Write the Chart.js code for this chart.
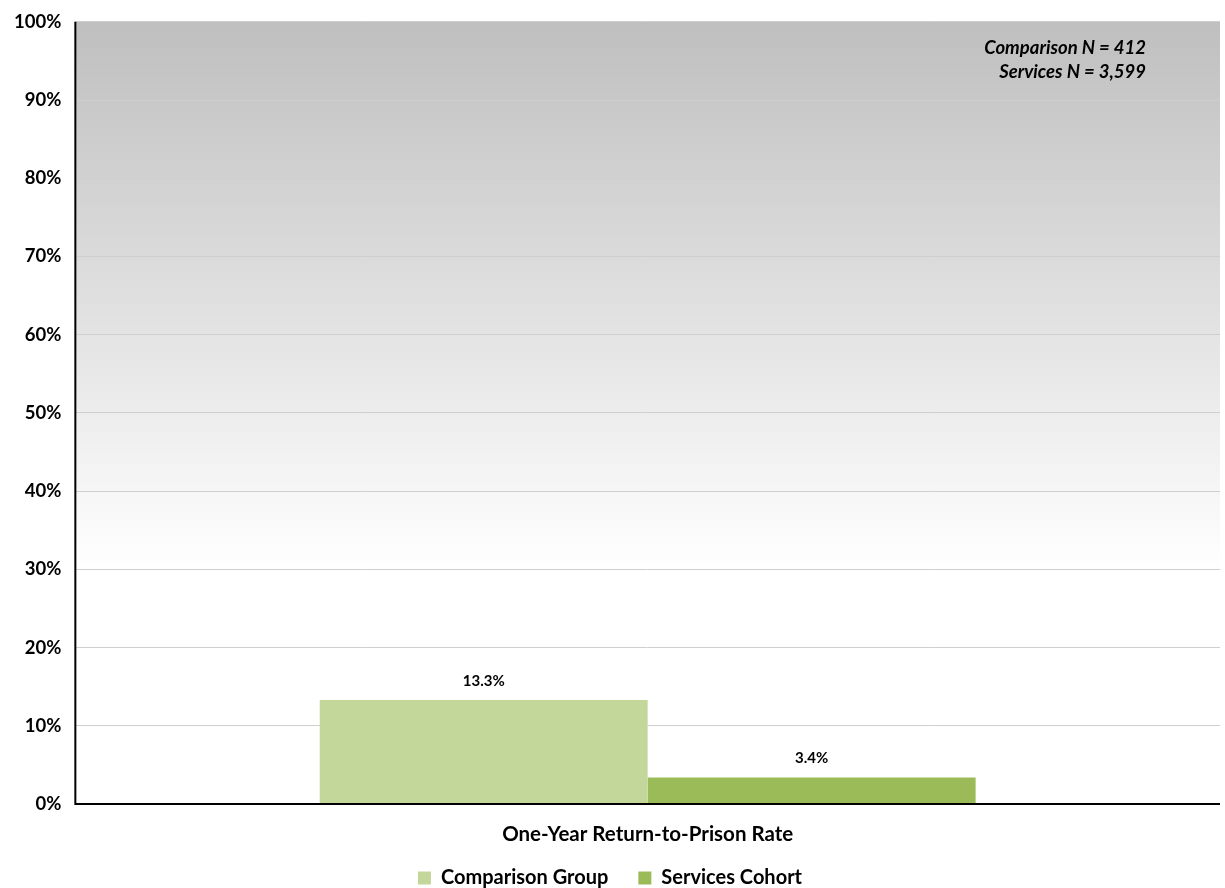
<!DOCTYPE html>
<html>
<head>
<meta charset="utf-8">
<script src="https://cdn.jsdelivr.net/npm/chart.js@4/dist/chart.umd.min.js"></script>
<style>
  html, body { margin: 0; padding: 0; background: #ffffff; }
  #wrap { width: 1225px; height: 888px; position: relative; }
</style>
</head>
<body>
<div id="wrap"><canvas id="chart" width="1225" height="888"></canvas></div>
<script>
// Categories and series
const categories = ['One-Year Return-to-Prison Rate'];
const seriesNames = ['Comparison Group', 'Services Cohort'];
const comparisonValues = [13.3];
const servicesValues = [3.4];
const seriesColors = ['#c4d79b', '#9bbb59'];
const sampleNotes = ['Comparison N = 412', 'Services N = 3,599'];

const FONT = 'Lato, "Open Sans", "DejaVu Sans", sans-serif';

// Grey-to-white gradient behind the plot area
const plotBackground = {
  id: 'plotBackground',
  beforeDraw(chart) {
    const { ctx, chartArea: a } = chart;
    const g = ctx.createLinearGradient(0, a.top, 0, a.bottom);
    g.addColorStop(0, '#bfbfbf');
    g.addColorStop(0.7, '#ffffff');
    g.addColorStop(1, '#ffffff');
    ctx.save();
    ctx.fillStyle = g;
    ctx.fillRect(a.left, a.top, a.right - a.left, a.bottom - a.top);
    ctx.restore();
  }
};

// Let the category label run a little into the legend's top padding
const labelRoom = {
  id: 'labelRoom',
  afterLayout(chart) {
    chart.scales.x.bottom += 16;
  }
};

// Value labels above each bar
const valueLabels = {
  id: 'valueLabels',
  afterDatasetsDraw(chart) {
    const { ctx } = chart;
    ctx.save();
    ctx.font = 'bold 15px ' + FONT;
    ctx.fillStyle = '#000000';
    ctx.textAlign = 'center';
    ctx.textBaseline = 'middle';
    chart.data.datasets.forEach((ds, i) => {
      chart.getDatasetMeta(i).data.forEach((bar, j) => {
        ctx.fillText(ds.data[j].toFixed(1) + '%', bar.x, bar.y - 19);
      });
    });
    ctx.restore();
  }
};

// Sample-size note in the top-right corner
const noteText = {
  id: 'noteText',
  afterDraw(chart) {
    const { ctx, chartArea: a } = chart;
    ctx.save();
    ctx.font = 'italic bold 18.5px ' + FONT;
    ctx.fillStyle = '#000000';
    ctx.textAlign = 'right';
    ctx.textBaseline = 'middle';
    sampleNotes.forEach((t, i) => {
      ctx.fillText(t, a.right - 74, a.top + 26 + i * 24);
    });
    ctx.restore();
  }
};

// Black axis lines on the left and bottom
const axisLines = {
  id: 'axisLines',
  afterDatasetsDraw(chart) {
    const { ctx, chartArea: a } = chart;
    ctx.save();
    ctx.strokeStyle = '#000000';
    ctx.lineWidth = 2;
    ctx.beginPath();
    ctx.moveTo(a.left, a.top);
    ctx.lineTo(a.left, a.bottom);
    ctx.lineTo(a.right, a.bottom);
    ctx.stroke();
    ctx.restore();
  }
};

new Chart(document.getElementById('chart'), {
  type: 'bar',
  data: {
    labels: categories,
    datasets: [
      { label: seriesNames[0], data: comparisonValues, backgroundColor: seriesColors[0] },
      { label: seriesNames[1], data: servicesValues, backgroundColor: seriesColors[1] }
    ]
  },
  options: {
    responsive: false,
    animation: false,
    devicePixelRatio: 1,
    layout: { padding: { top: 0, right: 5, left: 0, bottom: -10 } },
    datasets: { bar: { barPercentage: 1, categoryPercentage: 0.573 } },
    scales: {
      x: {
        grid: { display: false, drawTicks: false },
        border: { display: false },
        ticks: { color: '#000000', font: { family: FONT, size: 20.5, weight: 'bold' }, padding: 18 },
        afterFit(scale) { scale.height = 34; }
      },
      y: {
        min: 0, max: 100,
        ticks: {
          stepSize: 10,
          color: '#000000',
          padding: 14,
          font: { family: FONT, size: 18.5, weight: 'bold', lineHeight: 0.85 },
          callback: v => v + '%'
        },
        grid: { color: '#cfcfcf', lineWidth: 1, drawTicks: false },
        border: { display: false }
      }
    },
    plugins: {
      legend: {
        position: 'bottom',
        labels: {
          color: '#000000',
          boxWidth: 13, boxHeight: 13,
          padding: 30,
          font: { family: FONT, size: 20, weight: 'bold' }
        }
      },
      tooltip: { enabled: false }
    }
  },
  plugins: [plotBackground, labelRoom, valueLabels, noteText, axisLines]
});
</script>
</body>
</html>
